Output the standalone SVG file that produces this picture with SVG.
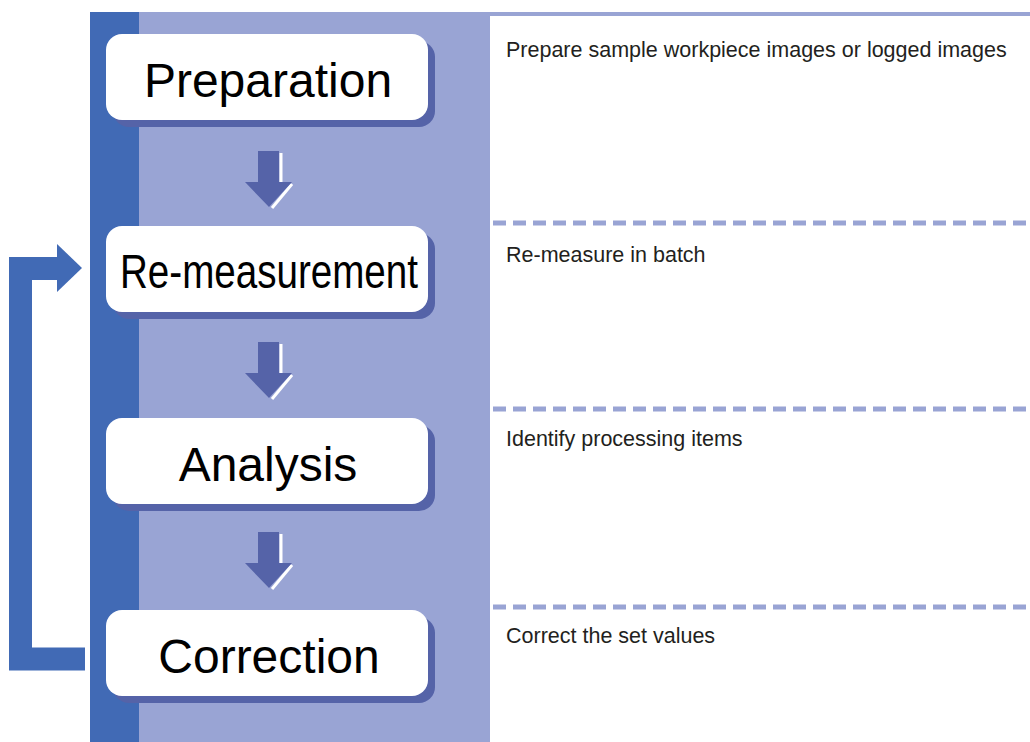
<svg xmlns="http://www.w3.org/2000/svg" width="1030" height="742" viewBox="0 0 1030 742">
<defs>
<style>
.lbl{font-family:"Liberation Sans",Arial,sans-serif;font-size:48px;fill:#000;text-anchor:middle}
.desc{font-family:"Liberation Sans",Arial,sans-serif;font-size:21.5px;fill:#231f20}
.box{fill:#fff}
.shadow{fill:#5563a8}
.sep{stroke:#99a4d4;stroke-width:5;stroke-dasharray:13 7;fill:none}
.darr{fill:#5563a8}
.hl{stroke:#fff;stroke-width:3;fill:none}
</style>
</defs>
<rect width="1030" height="742" fill="#fff"/>
<rect x="90" y="12" width="49" height="730" fill="#416ab5"/>
<rect x="139" y="12" width="351" height="730" fill="#99a4d4"/>
<rect x="490" y="12" width="540" height="4" fill="#99a4d4"/>
<g id="separators">
<line class="sep" x1="493" y1="223" x2="1030" y2="223"/>
<line class="sep" x1="493" y1="409" x2="1030" y2="409"/>
<line class="sep" x1="493" y1="607" x2="1030" y2="607"/>
</g>
<g id="connectors">
<g transform="translate(0,0)">
<polyline class="hl" points="281,153 281,182"/><line class="hl" x1="292" y1="184" x2="272" y2="208"/>
<polygon class="darr" points="258,151 279,151 279,182 292,182 269,207 245,182 258,182"/>
</g>
<g transform="translate(0,191)">
<polyline class="hl" points="281,153 281,182"/><line class="hl" x1="292" y1="184" x2="272" y2="208"/>
<polygon class="darr" points="258,151 279,151 279,182 292,182 269,207 245,182 258,182"/>
</g>
<g transform="translate(0,381)">
<polyline class="hl" points="281,153 281,182"/><line class="hl" x1="292" y1="184" x2="272" y2="208"/>
<polygon class="darr" points="258,151 279,151 279,182 292,182 269,207 245,182 258,182"/>
</g>
<polyline points="85,659 20.5,659 20.5,268.5 58,268.5" fill="none" stroke="#416ab5" stroke-width="23"/>
<polygon points="57,244 82,268 57,292" fill="#416ab5"/>
</g>
<g id="node-preparation">
<rect class="shadow" x="113" y="41" width="322" height="86" rx="16"/>
<rect class="box" x="106" y="34" width="322" height="86" rx="16"/>
<text class="lbl" x="268" y="97">Preparation</text>
</g>
<g id="node-remeasurement">
<rect class="shadow" x="113" y="233" width="322" height="86" rx="16"/>
<rect class="box" x="106" y="226" width="322" height="86" rx="16"/>
<text class="lbl" x="269" y="288" textLength="298" lengthAdjust="spacingAndGlyphs">Re-measurement</text>
</g>
<g id="node-analysis">
<rect class="shadow" x="113" y="425" width="322" height="86" rx="16"/>
<rect class="box" x="106" y="418" width="322" height="86" rx="16"/>
<text class="lbl" x="268" y="481">Analysis</text>
</g>
<g id="node-correction">
<rect class="shadow" x="113" y="617" width="322" height="86" rx="16"/>
<rect class="box" x="106" y="610" width="322" height="86" rx="16"/>
<text class="lbl" x="269" y="673">Correction</text>
</g>
<g id="descriptions">
<text class="desc" x="506" y="57">Prepare sample workpiece images or logged images</text>
<text class="desc" x="506" y="262">Re-measure in batch</text>
<text class="desc" x="506" y="446">Identify processing items</text>
<text class="desc" x="506" y="643">Correct the set values</text>
</g>
</svg>
